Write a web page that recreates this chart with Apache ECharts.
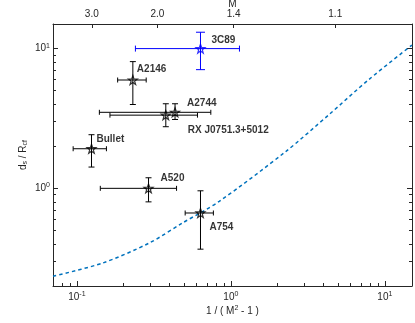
<!DOCTYPE html>
<html>
<head>
<meta charset="utf-8">
<script src="https://cdn.jsdelivr.net/npm/echarts@6/dist/echarts.min.js"></script>
<style>
  html, body { margin: 0; padding: 0; background: #fff; }
  #chart { width: 415px; height: 323px; }
</style>
</head>
<body>
<div id="chart"></div>
<script>
// shock stand-off distance over cold front radius, per cluster
const clusterNames = ['3C89', 'A2146', 'A2744', 'RX J0751.3+5012', 'Bullet', 'A520', 'A754'];
const invMach = [0.635, 0.231, 0.434, 0.378, 0.1245, 0.292, 0.635];
const invMachLow = [0.240, 0.184, 0.140, 0.164, 0.0946, 0.142, 0.505];
const invMachHigh = [1.137, 0.282, 0.741, 0.607, 0.1556, 0.444, 0.770];
const ratio = [10.0, 5.96, 3.50, 3.34, 1.92, 1.00, 0.666];
const ratioLow = [7.07, 3.98, 3.11, 2.76, 1.42, 0.80, 0.367];
const ratioHigh = [13.1, 8.07, 4.03, 4.03, 2.42, 1.19, 0.96];

// model curve (dashed)
const modelX = [0.07, 0.147, 0.295, 0.485, 0.84, 2.28, 4.35, 7.9, 15];
const modelY = [0.235, 0.292, 0.406, 0.565, 0.807, 1.84, 3.38, 6.03, 10.6];

// ticks
const xMajorTicks = [0.1, 1, 10];
const xMinorTicks = [0.08, 0.09, 0.2, 0.3, 0.4, 0.5, 0.6, 0.7, 0.8, 0.9, 2, 3, 4, 5, 6, 7, 8, 9];
const yMajorTicks = [1, 10];
const yMinorTicks = [0.3, 0.4, 0.5, 0.6, 0.7, 0.8, 0.9, 2, 3, 4, 5, 6, 7, 8, 9];
const machTicks = [3.0, 2.0, 1.4, 1.1];

// styles
const pointColors = ['#0000ff', '#000', '#000', '#000', '#000', '#000', '#000'];
const labelOffsets = [[11, -8], [4, -11], [12, -9], [22, 15], [5, -9], [12, -10], [9, 14]];
const axisColor = '#262626';
const fontFamily = '"Liberation Sans", Arial, Helvetica, sans-serif';
const starPath = 'path://M0,-10 L2.35,-3.24 L9.51,-3.09 L3.8,1.24 L5.88,8.09 L0,4 L-5.88,8.09 L-3.8,1.24 L-9.51,-3.09 L-2.35,-3.24 Z';

const X_MIN = 0.07, X_MAX = 15, Y_MIN = 0.2, Y_MAX = 15;

const machTickValues = machTicks.map((m) => 1 / (m * m - 1));

let chart = echarts.init(document.getElementById('chart'));

const supRich = {
    sup: { fontSize: 7, fontFamily, color: axisColor, padding: [0, 0, 6, 0] },
};
const subRich = {
    sub: { fontSize: 7, fontFamily, color: axisColor, padding: [5, 0, 0, 0] },
};

function powerLabel(v) {
    return '10{sup|' + Math.round(Math.log10(v)) + '}';
}

function baseAxis(min, max, extra) {
    return Object.assign(
        {
            type: 'log',
            logBase: 10,
            min,
            max,
            splitLine: { show: false },
            axisLine: { show: false },
            axisTick: { show: false },
            axisLabel: { show: false },
        },
        extra
    );
}

function tickSet(values, length) {
    return {
        show: true,
        inside: true,
        length,
        customValues: values,
        lineStyle: { color: axisColor, width: 1 },
    };
}

const lineStyle = { show: true, onZero: false, lineStyle: { color: axisColor, width: 1 } };

function renderErrorBar(params, api) {
    const x = api.value(0);
    const y = api.value(1);
    const left = api.coord([api.value(2), y]);
    const right = api.coord([api.value(3), y]);
    const bottom = api.coord([x, api.value(4)]);
    const top = api.coord([x, api.value(5)]);
    const color = pointColors[params.dataIndex];
    const capX = color === '#000' ? 2.5 : 3;
    const capY = color === '#000' ? 3 : 4.5;
    const style = { stroke: color, lineWidth: 1, fill: null };
    const seg = (x1, y1, x2, y2) => ({ type: 'line', shape: { x1, y1, x2, y2 }, style });
    return {
        type: 'group',
        children: [
            seg(left[0], left[1], right[0], right[1]),
            seg(left[0], left[1] - capX, left[0], left[1] + capX),
            seg(right[0], right[1] - capX, right[0], right[1] + capX),
            seg(top[0], top[1], bottom[0], bottom[1]),
            seg(top[0] - capY, top[1], top[0] + capY, top[1]),
            seg(bottom[0] - capY, bottom[1], bottom[0] + capY, bottom[1]),
        ],
    };
}

let option = {
    animation: false,
    backgroundColor: '#fff',
    grid: { left: 53, right: 3, top: 24, bottom: 37, outerBoundsMode: 'none' },
    xAxis: [
        baseAxis(X_MIN, X_MAX, {
            position: 'bottom',
            axisLine: lineStyle,
            axisTick: tickSet(xMajorTicks, 5),
            axisLabel: {
                show: true,
                customValues: xMajorTicks,
                margin: 5,
                fontSize: 10,
                fontFamily,
                color: axisColor,
                formatter: powerLabel,
                rich: supRich,
            },
            name: '1 / ( M{sup|2} - 1 )',
            nameLocation: 'middle',
            nameGap: 19,
            nameMoveOverlap: false,
            nameTextStyle: { fontSize: 10, fontFamily, color: axisColor, rich: supRich },
        }),
        baseAxis(X_MIN, X_MAX, { position: 'bottom', axisTick: tickSet(xMinorTicks, 3) }),
        baseAxis(X_MIN, X_MAX, {
            position: 'top',
            axisLine: lineStyle,
            axisTick: tickSet(machTickValues, 4),
            axisLabel: {
                show: true,
                customValues: machTickValues,
                margin: 5,
                fontSize: 10,
                fontFamily,
                color: axisColor,
                formatter: (v) => Math.sqrt(1 + 1 / v).toFixed(1),
            },
            name: 'M',
            nameLocation: 'middle',
            nameGap: 15,
            nameMoveOverlap: false,
            nameTextStyle: { fontSize: 10, fontFamily, color: axisColor },
        }),
    ],
    yAxis: [
        baseAxis(Y_MIN, Y_MAX, {
            position: 'left',
            axisLine: lineStyle,
            axisTick: tickSet(yMajorTicks, 5),
            axisLabel: {
                show: true,
                customValues: yMajorTicks,
                margin: 3,
                fontSize: 10,
                fontFamily,
                color: axisColor,
                formatter: powerLabel,
                rich: supRich,
            },
            name: 'd{sub|s} / R{sub|cf}',
            nameLocation: 'middle',
            nameGap: 24,
            nameMoveOverlap: false,
            nameTextStyle: { fontSize: 10, fontFamily, color: axisColor, rich: subRich },
        }),
        baseAxis(Y_MIN, Y_MAX, { position: 'left', axisTick: tickSet(yMinorTicks, 3) }),
        baseAxis(Y_MIN, Y_MAX, {
            position: 'right',
            axisLine: lineStyle,
            axisTick: tickSet(yMajorTicks, 5),
        }),
        baseAxis(Y_MIN, Y_MAX, { position: 'right', axisTick: tickSet(yMinorTicks, 3) }),
    ],
    series: [
        {
            name: 'model',
            type: 'line',
            xAxisIndex: 0,
            yAxisIndex: 0,
            data: modelX.map((x, i) => [x, modelY[i]]),
            showSymbol: false,
            smooth: 0.3,
            z: 1,
            lineStyle: { color: '#0072BD', width: 1.5, type: [3.5, 3] },
        },
        {
            name: 'errors',
            type: 'custom',
            xAxisIndex: 0,
            yAxisIndex: 0,
            renderItem: renderErrorBar,
            encode: { x: 0, y: 1 },
            z: 2,
            data: clusterNames.map((n, i) => [
                invMach[i],
                ratio[i],
                invMachLow[i],
                invMachHigh[i],
                ratioLow[i],
                ratioHigh[i],
            ]),
        },
        {
            name: 'clusters',
            type: 'scatter',
            xAxisIndex: 0,
            yAxisIndex: 0,
            symbol: starPath,
            symbolSize: 9,
            z: 3,
            data: clusterNames.map((n, i) => ({
                name: n,
                value: [invMach[i], ratio[i]],
                itemStyle: { color: 'rgba(0,0,0,0)', borderColor: pointColors[i], borderWidth: 1.2 },
                label: { offset: labelOffsets[i] },
            })),
            label: {
                show: true,
                position: 'inside',
                align: 'left',
                verticalAlign: 'middle',
                formatter: '{b}',
                fontSize: 10,
                fontWeight: 'bold',
                fontFamily,
                color: '#000',
            },
        },
    ],
};
chart.setOption(option);
</script>
</body>
</html>
